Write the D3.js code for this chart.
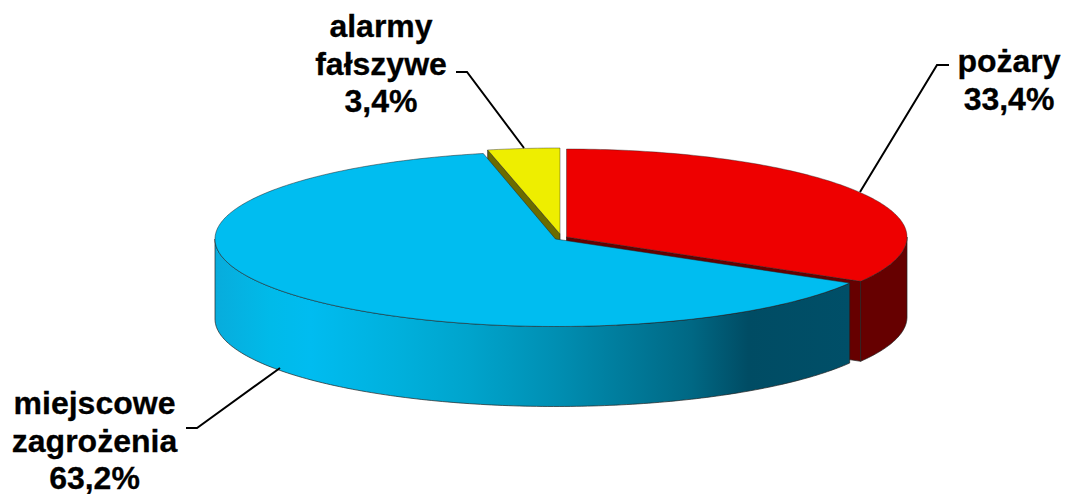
<!DOCTYPE html>
<html><head><meta charset="utf-8">
<script src="https://cdn.jsdelivr.net/npm/d3@7"></script>
<style>html,body{margin:0;background:#fff}svg{display:block}text{font-family:"Liberation Sans",Arial,sans-serif;font-weight:bold;font-size:32px;fill:#000;stroke:#000;stroke-width:.3px;text-anchor:middle}</style>
</head><body><svg id="c" width="1065" height="494"></svg>
<script>
const categories=["pożary","miejscowe zagrożenia","alarmy fałszywe"];
const values=[33.4,63.2,3.4];
const valueLabels=["33,4%","63,2%","3,4%"];
const labelLines=[["pożary","33,4%"],["miejscowe","zagrożenia","63,2%"],["alarmy","fałszywe","3,4%"]];
const labelPos=[[1009,72],[94.5,414],[381,37]];
const leaders=[[[949,65],[937,65],[860,192]],[[186,428],[197,428],[280,368]],[[456,72],[467,72],[524,148]]];
const geo=[{cx:566.5,cy:237,rx:340.5,ry:88},{cx:555.5,cy:239,rx:340.5,ry:87.5},{cx:560,cy:234,rx:341,ry:86}];
const topCol=["#ee0000","#00bdf0","#eeee00"],wallCol=["#660000","#00bcf0","#6b6b00"];
const depth=80;
const svg=d3.select("#c");
const pie=d3.pie().sort(null).value(d=>d)(values);
function pt(g,a){return [g.cx+g.rx*Math.sin(a),g.cy-g.ry*Math.cos(a)];}
function arcPts(g,a0,a1){const n=Math.max(2,Math.ceil(Math.abs(a1-a0)*60));return d3.range(n+1).map(i=>pt(g,a0+(a1-a0)*i/n));}
const line=d3.line();
const defs=svg.append("defs");
const grad=defs.append("linearGradient").attr("id","bw").attr("gradientUnits","userSpaceOnUse").attr("x1",215).attr("x2",850).attr("y1",0).attr("y2",0);
[[0,"#08acdc"],[.087,"#00bae9"],[.15,"#00bcf0"],[.29,"#00b0dc"],[.4,"#00a4cc"],[.53,"#0090b4"],[.64,"#007c9c"],[.75,"#006884"],[.84,"#004c64"],[1,"#004f68"]].forEach(s=>grad.append("stop").attr("offset",s[0]).attr("stop-color",s[1]));
function poly(pts,fill,sw=.7){svg.append("path").attr("d",line(pts)+"Z").attr("fill",fill).attr("stroke","#222").attr("stroke-width",sw).attr("stroke-linejoin","round");}
// yellow
{const g=geo[2],p=pie[2],A=[g.cx,g.cy],L=pt(g,p.startAngle);
 poly([L,A,[A[0],A[1]+depth],[L[0],L[1]+depth]],wallCol[2]);
 poly([A,...arcPts(g,p.startAngle,p.endAngle)],topCol[2],.4);}
// red
{const g=geo[0],p=pie[0],A=[g.cx,g.cy],E=pt(g,p.endAngle);
 poly([A,E,[E[0],E[1]+depth],[A[0],A[1]+depth]],wallCol[0]);
 const o=arcPts(g,Math.PI/2,p.endAngle);
 poly([...o,...o.slice().reverse().map(q=>[q[0],q[1]+depth])],wallCol[0]);
 poly([A,...arcPts(g,p.startAngle,p.endAngle)],topCol[0],.4);}
// blue
{const g=geo[1],p=pie[1],A=[g.cx,g.cy];
 const o=arcPts(g,p.startAngle,3*Math.PI/2);
 poly([...o,...o.slice().reverse().map(q=>[q[0],q[1]+depth])],"url(#bw)");
 poly([A,...arcPts(g,p.startAngle,p.endAngle)],topCol[1],.5);}
leaders.forEach(l=>svg.append("path").attr("d",line(l)).attr("fill","none").attr("stroke","#000").attr("stroke-width",2));
labelLines.forEach((ls,i)=>{const t=svg.append("text");ls.forEach((s,j)=>t.append("tspan").attr("x",labelPos[i][0]).attr("y",labelPos[i][1]+j*37.5).text(s));});
</script></body></html>
